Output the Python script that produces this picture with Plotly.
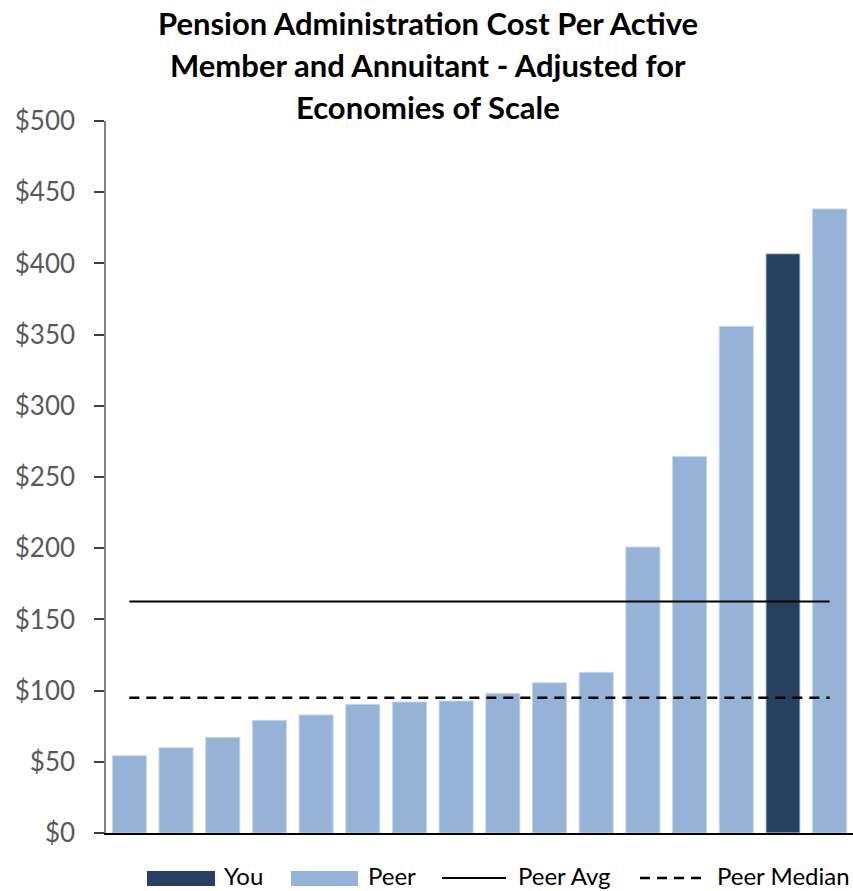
import plotly.graph_objects as go

# Cost per active member and annuitant, sorted ascending
costs = [54.3, 59.9, 67.1, 79.1, 82.9, 90.3, 92.0, 92.7, 98.0, 105.5,
         112.8, 200.8, 264.3, 355.8, 406.8, 438.2]
roles = ["Peer"] * 14 + ["You", "Peer"]
peer_avg = 162.6
peer_median = 95.0
y_ticks = [0, 50, 100, 150, 200, 250, 300, 350, 400, 450, 500]
title_lines = ["Pension Administration Cost Per Active",
               "Member and Annuitant - Adjusted for",
               "Economies of Scale"]

YOU_COLOR = "#254061"
PEER_COLOR = "#95B3D7"
FONT = "Lato"
TEXT_GRAY = "#595959"

positions = list(range(1, len(costs) + 1))
colors = [YOU_COLOR if r == "You" else PEER_COLOR for r in roles]

fig = go.Figure()
fig.add_trace(go.Bar(
    x=positions, y=costs,
    marker=dict(color=colors, line=dict(color="#c5d6ea", width=1)),
    showlegend=False, hoverinfo="y",
))
fig.add_trace(go.Scatter(
    x=[positions[0], positions[-1]], y=[peer_avg, peer_avg],
    mode="lines", line=dict(color="black", width=2), showlegend=False,
))
fig.add_trace(go.Scatter(
    x=[positions[0], positions[-1]], y=[peer_median, peer_median],
    mode="lines", line=dict(color="black", width=2.5, dash="10px,7px"),
    showlegend=False,
))

W, H = 853, 891
L, R, T, B = 106, 0, 121, 58

fig.update_layout(
    width=W, height=H,
    margin=dict(l=L, r=R, t=T, b=B),
    paper_bgcolor="white", plot_bgcolor="white",
    bargap=0.27,
    font=dict(family=FONT, color=TEXT_GRAY),
)
fig.update_xaxes(
    range=[0.5, len(costs) + 0.5], showticklabels=False, ticks="",
    showgrid=False, zeroline=False, showline=True,
    linecolor="black", linewidth=2,
)
fig.update_yaxes(
    range=[0, 500], tickvals=y_ticks,
    ticktext=[f"${v}" for v in y_ticks],
    showgrid=False, zeroline=False, showline=True,
    linecolor="#808080", linewidth=1.5,
    ticks="outside", ticklen=10, tickcolor="#404040", tickwidth=1.5,
    tickfont=dict(family=FONT, size=26, color=TEXT_GRAY),
    ticklabelstandoff=14,
)

# Title, one annotation per line
title_y = [23, 65, 107]
for line, yc in zip(title_lines, title_y):
    fig.add_annotation(
        text=f"<b>{line}</b>", xref="paper", yref="paper",
        x=(428 - L) / (W - L - R), y=1 + (T - yc) / (H - T - B),
        xanchor="center", yanchor="middle", showarrow=False,
        font=dict(family=FONT, size=31, color="black"),
    )

# Legend drawn in pixel space below the axis
def px_x(px):
    return (px - L) / (W - L - R)

def px_y(py):
    return (H - B - py) / (H - T - B)

legend_y = 875
fig.add_shape(type="rect", xref="paper", yref="paper",
              x0=px_x(147), x1=px_x(215), y0=px_y(871), y1=px_y(886),
              fillcolor=YOU_COLOR, line=dict(width=0))
fig.add_shape(type="rect", xref="paper", yref="paper",
              x0=px_x(291), x1=px_x(358), y0=px_y(871), y1=px_y(886),
              fillcolor=PEER_COLOR, line=dict(width=0))
fig.add_shape(type="line", xref="paper", yref="paper",
              x0=px_x(442), x1=px_x(506), y0=px_y(878), y1=px_y(878),
              line=dict(color="black", width=2))
fig.add_shape(type="line", xref="paper", yref="paper",
              x0=px_x(640), x1=px_x(706), y0=px_y(878), y1=px_y(878),
              line=dict(color="black", width=2.5, dash="10px,7px"))
for label, lx in [("You", 222), ("Peer", 366), ("Peer Avg", 516), ("Peer Median", 715)]:
    fig.add_annotation(
        text=label, xref="paper", yref="paper",
        x=px_x(lx), y=px_y(legend_y), xanchor="left", yanchor="middle",
        showarrow=False, font=dict(family=FONT, size=24, color="black"),
    )

fig.write_html("out.html")
